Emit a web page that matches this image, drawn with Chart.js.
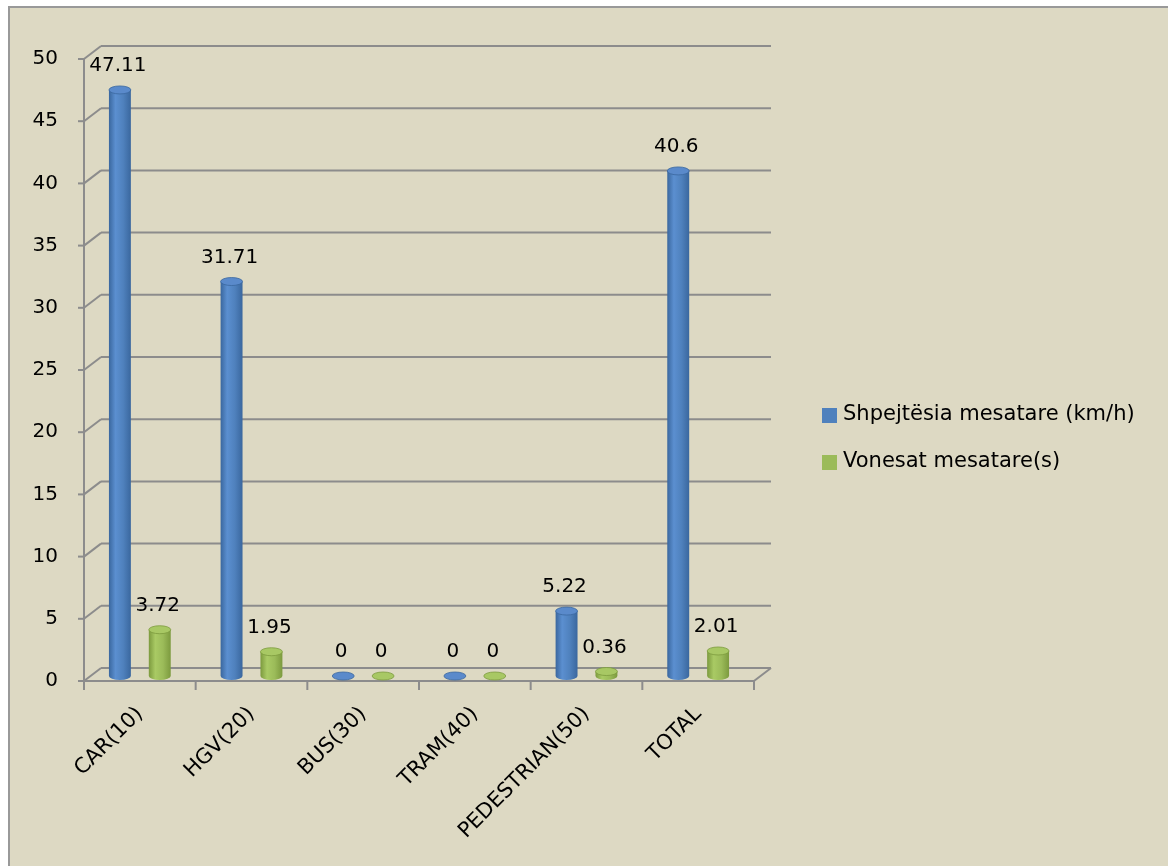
<!DOCTYPE html>
<html>
<head>
<meta charset="utf-8">
<script src="https://cdn.jsdelivr.net/npm/chart.js@4.4.1/dist/chart.umd.min.js"></script>
<style>
  html, body { margin: 0; padding: 0; background: #fff; }
  #wrap { position: absolute; left: 0; top: 0; width: 1168px; height: 866px; }
</style>
</head>
<body>
<div id="wrap"><canvas id="chart"></canvas></div>
<script>
// data
const categories = ['CAR(10)', 'HGV(20)', 'BUS(30)', 'TRAM(40)', 'PEDESTRIAN(50)', 'TOTAL'];
const speedValues = [47.11, 31.71, 0, 0, 5.22, 40.6];
const delayValues = [3.72, 1.95, 0, 0, 0.36, 2.01];
const seriesNames = ['Shpejtësia mesatare (km/h)', 'Vonesat mesatare(s)'];
const yMax = 50;
const yStep = 5;

const FONT = 'DejaVu Sans';
const FS = 20;
const BG = '#DDD9C3';
const GRID = '#8C8C8C';
const DEPTH_X = 17, DEPTH_Y = -13;   // back wall offset
const BAR_DY = -5;                   // bars sit half way in depth

const colours = [
  { main: '#4F81BD', edge: '#3A679E', light: '#5B8FD0', top: '#5A8ACB' },
  { main: '#9BBB59', edge: '#7C9A3E', light: '#A9CA64', top: '#A8C864' }
];

const background = {
  id: 'background',
  beforeDraw(chart) {
    const c = chart.ctx;
    c.save();
    c.fillStyle = '#fff';
    c.fillRect(0, 0, chart.width, chart.height);
    c.fillStyle = BG;
    c.fillRect(9, 8, chart.width - 9, chart.height - 8);
    c.strokeStyle = '#999';
    c.lineWidth = 2;
    c.beginPath();
    c.moveTo(9, chart.height);
    c.lineTo(9, 7);
    c.lineTo(chart.width, 7);
    c.stroke();
    c.restore();
  }
};

function line(c, x1, y1, x2, y2) {
  c.beginPath();
  c.moveTo(x1, y1);
  c.lineTo(x2, y2);
  c.stroke();
}

function cylinder(c, x, top, base, w, col) {
  const rx = w / 2, ry = 4;
  const g = c.createLinearGradient(x - rx, 0, x + rx, 0);
  g.addColorStop(0, col.edge);
  g.addColorStop(0.3, col.light);
  g.addColorStop(0.65, col.main);
  g.addColorStop(1, col.edge);
  c.fillStyle = g;
  if (base - top > 0.5) {
    c.beginPath();
    c.moveTo(x - rx, top);
    c.lineTo(x - rx, base);
    c.ellipse(x, base, rx, ry, 0, Math.PI, 0, true);
    c.lineTo(x + rx, top);
    c.closePath();
    c.fill();
  }
  c.beginPath();
  c.ellipse(x, top, rx, ry, 0, 0, Math.PI * 2);
  c.fillStyle = col.top;
  c.fill();
  c.strokeStyle = col.edge;
  c.lineWidth = 0.8;
  c.stroke();
}

const walls3d = {
  id: 'walls3d',
  beforeDatasetsDraw(chart) {
    const c = chart.ctx;
    const { left, right, top, bottom } = chart.chartArea;
    const ys = chart.scales.y;
    c.save();
    c.strokeStyle = GRID;
    c.lineWidth = 2;
    for (let v = 0; v <= yMax; v += yStep) {
      const y = ys.getPixelForValue(v);
      line(c, left + DEPTH_X, y + DEPTH_Y, right + DEPTH_X, y + DEPTH_Y);
      line(c, left, y, left + DEPTH_X, y + DEPTH_Y);
      line(c, left - 6, y, left, y);
    }
    line(c, left, top, left, bottom);
    line(c, left, bottom, right, bottom);
    line(c, right, bottom, right + DEPTH_X, bottom + DEPTH_Y);
    const step = (right - left) / categories.length;
    for (let i = 0; i <= categories.length; i++) {
      line(c, left + i * step, bottom, left + i * step, bottom + 9);
    }

    // cylinders from the bar elements
    chart.data.datasets.forEach((ds, di) => {
      const meta = chart.getDatasetMeta(di);
      meta.data.forEach(bar => {
        cylinder(c, bar.x, bar.y + BAR_DY, bar.base + BAR_DY, bar.width, colours[di]);
      });
    });
    c.restore();
    return false;
  }
};

const valueLabels = {
  id: 'valueLabels',
  afterDraw(chart) {
    const c = chart.ctx;
    c.save();
    c.font = FS + 'px "' + FONT + '"';
    c.fillStyle = '#000';
    c.textAlign = 'center';
    c.textBaseline = 'middle';
    chart.data.datasets.forEach((ds, di) => {
      chart.getDatasetMeta(di).data.forEach((bar, i) => {
        c.fillText(String(ds.data[i]), bar.x - 2, bar.y + BAR_DY - 24);
      });
    });
    c.restore();
  }
};

// legend drawn by hand: the built-in one is capped to a quarter of the width
const sideLegend = {
  id: 'sideLegend',
  afterDraw(chart) {
    const c = chart.ctx;
    const x = chart.chartArea.right + 68;
    c.save();
    c.font = '21px "' + FONT + '"';
    c.textBaseline = 'middle';
    c.textAlign = 'left';
    chart.data.datasets.forEach((ds, i) => {
      const y = chart.height / 2 - 18 + i * 47;
      c.fillStyle = ds.backgroundColor;
      c.fillRect(x, y - 7, 15, 15);
      c.fillStyle = '#000';
      c.fillText(ds.label, x + 21, y);
    });
    c.restore();
  }
};

function build() {
  new Chart(document.getElementById('chart'), {
    type: 'bar',
    data: {
      labels: categories,
      datasets: [
        { label: seriesNames[0], data: speedValues, backgroundColor: colours[0].main },
        { label: seriesNames[1], data: delayValues, backgroundColor: colours[1].main }
      ]
    },
    options: {
      responsive: true,
      maintainAspectRatio: false,
      animation: false,
      events: [],
      categoryPercentage: 0.714,
      barPercentage: 0.55,
      layout: { padding: { top: 59, right: 414, left: 0, bottom: 0 } },
      plugins: {
        tooltip: { enabled: false },
        legend: { display: false }
      },
      scales: {
        x: {
          grid: { display: false },
          border: { display: false },
          afterFit(scale) { scale.height = 185; },
          ticks: {
            font: { family: FONT, size: 21 },
            color: '#000',
            maxRotation: 45,
            minRotation: 45,
            padding: 13
          }
        },
        y: {
          min: 0,
          max: yMax,
          grid: { display: false },
          border: { display: false },
          afterFit(scale) { scale.width = 84; },
          ticks: {
            stepSize: yStep,
            font: { family: FONT, size: FS },
            color: '#000',
            padding: 18
          }
        }
      }
    },
    plugins: [background, walls3d, valueLabels, sideLegend]
  });
}

document.fonts.load(FS + 'px "' + FONT + '"').then(build, build);
</script>
</body>
</html>
